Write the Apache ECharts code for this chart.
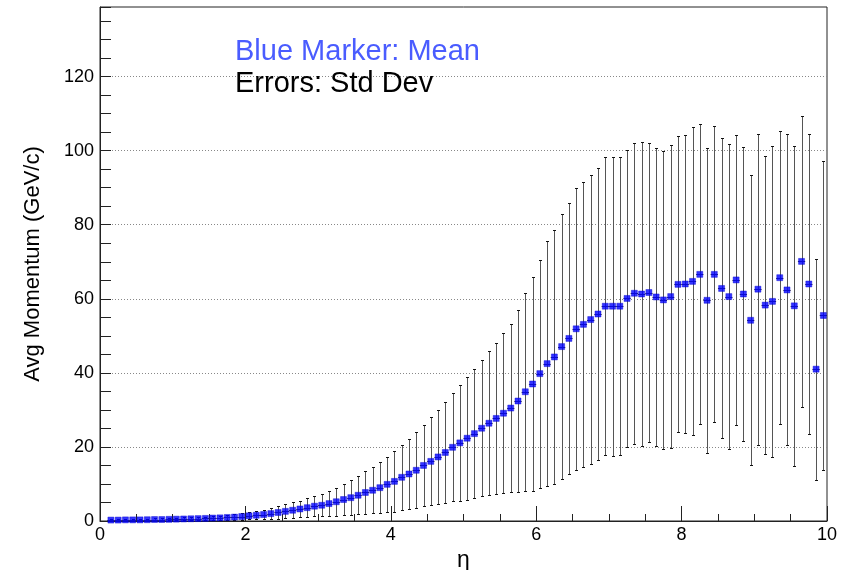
<!DOCTYPE html>
<html>
<head>
<meta charset="utf-8">
<script src="https://cdn.jsdelivr.net/npm/echarts@6/dist/echarts.min.js"></script>
<style>
  html, body { margin: 0; padding: 0; background: #fff; }
  #chart { width: 854px; height: 570px; }
</style>
</head>
<body>
<div id="chart"></div>
<script>
// ---- Data ----
const etaBins = [
  0.15, 0.25, 0.35, 0.45, 0.55, 0.65, 0.75, 0.85, 0.95, 1.05,
  1.15, 1.25, 1.35, 1.45, 1.55, 1.65, 1.75, 1.85, 1.95, 2.05,
  2.15, 2.25, 2.35, 2.45, 2.55, 2.65, 2.75, 2.85, 2.95, 3.05,
  3.15, 3.25, 3.35, 3.45, 3.55, 3.65, 3.75, 3.85, 3.95, 4.05,
  4.15, 4.25, 4.35, 4.45, 4.55, 4.65, 4.75, 4.85, 4.95, 5.05,
  5.15, 5.25, 5.35, 5.45, 5.55, 5.65, 5.75, 5.85, 5.95, 6.05,
  6.15, 6.25, 6.35, 6.45, 6.55, 6.65, 6.75, 6.85, 6.95, 7.05,
  7.15, 7.25, 7.35, 7.45, 7.55, 7.65, 7.75, 7.85, 7.95, 8.05,
  8.15, 8.25, 8.35, 8.45, 8.55, 8.65, 8.75, 8.85, 8.95, 9.05,
  9.15, 9.25, 9.35, 9.45, 9.55, 9.65, 9.75, 9.85, 9.95
];
const binWidth = 0.1;

const meanMomentum = [
  0.25, 0.25, 0.3, 0.3, 0.3, 0.35, 0.4, 0.4, 0.45, 0.5,
  0.55, 0.6, 0.65, 0.7, 0.8, 0.85, 0.95, 1.05, 1.2, 1.4,
  1.55, 1.75, 2.0, 2.3, 2.6, 2.9, 3.25, 3.6, 4.0, 4.25,
  4.7, 5.2, 5.8, 6.3, 6.95, 7.7, 8.3, 9.0, 9.9, 10.7,
  11.8, 12.7, 13.7, 15.0, 16.1, 17.3, 18.5, 19.9, 21.1, 22.35,
  23.6, 25.05, 26.4, 27.7, 29.1, 30.5, 32.4, 34.9, 37.0, 39.8,
  42.5, 44.3, 47.1, 49.3, 51.9, 53.1, 54.4, 55.9, 58.0, 58.0,
  58.0, 60.1, 61.5, 61.3, 61.7, 60.5, 59.7, 60.6, 63.9, 64.0,
  64.7, 66.6, 59.6, 66.6, 62.8, 60.6, 65.1, 61.3, 54.2, 62.6,
  58.3, 59.3, 65.7, 62.4, 58.1, 70.1, 64.0, 41.0, 55.5
];

const stdDev = [
  0.2, 0.2, 0.2, 0.2, 0.25, 0.25, 0.3, 0.3, 0.3, 0.35,
  0.4, 0.4, 0.45, 0.5, 0.55, 0.6, 0.65, 0.75, 0.85, 0.95,
  1.1, 1.25, 1.5, 1.75, 1.9, 2.1, 2.2, 2.5, 2.7, 3.0,
  3.4, 3.8, 4.3, 4.8, 5.1, 5.7, 6.2, 6.8, 7.4, 8.2,
  8.8, 9.5, 10.2, 11.0, 11.9, 12.8, 13.7, 14.6, 15.6, 16.6,
  17.5, 18.4, 19.5, 20.4, 21.6, 22.8, 24.5, 26.8, 28.8, 30.8,
  33.0, 34.2, 35.8, 36.5, 38.0, 38.5, 39.0, 39.3, 40.2, 40.4,
  40.3, 40.1, 40.7, 41.0, 40.3, 40.3, 40.3, 40.8, 40.0, 40.3,
  41.6, 40.5, 41.2, 40.0, 40.5, 41.1, 39.1, 39.6, 39.1, 42.0,
  40.2, 41.9, 39.5, 42.0, 43.2, 39.4, 40.5, 29.8, 41.8
];

const xRange = [0, 10];
const yRange = [0, 138.8];
const xTickStep = 2;
const yLabelStep = 20;
const yTickStep = 5;

const legendLines = ['Blue Marker: Mean', 'Errors: Std Dev'];
const xTitle = 'η';
const yTitle = 'Avg Momentum (GeV/c)';

// ---- Build ----
const points = etaBins.map((x, i) => [x, meanMomentum[i], stdDev[i]]);

const chart = echarts.init(document.getElementById('chart'), null, { renderer: 'canvas' });
const FONT = 'Liberation Sans, Arial, Helvetica, sans-serif';

function snap(v) { return Math.round(v) + 0.5; }

const option = {
  animation: false,
  backgroundColor: '#ffffff',
  grid: {
    left: 100, right: 27, top: 7, bottom: 49,
    outerBoundsMode: 'none',
    containLabel: false,
    show: true, borderColor: '#222', borderWidth: 1,
    backgroundColor: 'transparent'
  },
  xAxis: {
    type: 'value',
    min: xRange[0], max: xRange[1], interval: xTickStep,
    name: xTitle, nameLocation: 'middle', nameGap: 24,
    nameTextStyle: { fontFamily: FONT, fontSize: 23, color: '#000' },
    axisLine: { show: true, onZero: false, lineStyle: { color: '#222', width: 1 } },
    axisTick: { show: true, inside: true, length: 15, lineStyle: { color: '#222' } },
    minorTick: { show: true, splitNumber: 4, length: 7, lineStyle: { color: '#222' } },
    axisLabel: { fontFamily: FONT, fontSize: 18, color: '#000', margin: 5 },
    splitLine: { show: false }
  },
  yAxis: [
    {
      type: 'value',
      position: 'left',
      min: yRange[0], max: yRange[1], interval: yTickStep,
      axisLine: { show: true, onZero: false, lineStyle: { color: '#222', width: 1 } },
      axisTick: { show: true, inside: true, length: 11, lineStyle: { color: '#222' } },
      axisLabel: { show: false },
      splitLine: { show: false }
    },
    {
      type: 'value',
      position: 'left',
      min: yRange[0], max: yRange[1], interval: yLabelStep,
      name: yTitle, nameLocation: 'middle', nameGap: 56,
      nameTextStyle: { fontFamily: FONT, fontSize: 22, color: '#000' },
      axisLine: { show: false },
      axisTick: { show: false },
      axisLabel: {
        fontFamily: FONT, fontSize: 18, color: '#000', margin: 6,
        formatter: v => (Math.abs(v % yLabelStep) < 1e-9 ? String(v) : '')
      },
      splitLine: {
        show: true, showMinLine: false, showMaxLine: false,
        lineStyle: { color: '#888', type: [1, 2], width: 1 }
      }
    }
  ],
  graphic: [
    {
      type: 'text', left: 235, top: 37, z: 100,
      style: { text: legendLines[0], fill: '#4a5cff', font: '29px ' + FONT }
    },
    {
      type: 'text', left: 235, top: 69, z: 100,
      style: { text: legendLines[1], fill: '#000', font: '29px ' + FONT }
    }
  ],
  series: [
    {
      type: 'custom',
      xAxisIndex: 0, yAxisIndex: 0,
      clip: true,
      data: points,
      z: 2,
      renderItem: function (params, api) {
        const x = api.value(0), y = api.value(1), e = api.value(2);
        const c = api.coord([x, y]);
        const t = api.coord([x, y + e]);
        const b = api.coord([x, y - e]);
        const l = api.coord([x - binWidth / 2, y]);
        const r = api.coord([x + binWidth / 2, y]);
        const cx = snap(c[0]);
        const cy = snap(c[1]);
        const ty = snap(t[1]);
        const by = snap(b[1]);
        const children = [
          { type: 'line', shape: { x1: cx, y1: ty, x2: cx, y2: by },
            style: { stroke: '#555', lineWidth: 1 } },
          { type: 'line', shape: { x1: l[0], y1: cy, x2: r[0], y2: cy },
            style: { stroke: '#333', lineWidth: 1 } },
          { type: 'line', shape: { x1: cx - 1.5, y1: ty, x2: cx + 1.5, y2: ty },
            style: { stroke: '#111', lineWidth: 1 } },
          { type: 'line', shape: { x1: cx - 1.5, y1: by, x2: cx + 1.5, y2: by },
            style: { stroke: '#111', lineWidth: 1 } }
        ];
        return { type: 'group', children: children };
      }
    },
    {
      type: 'scatter',
      xAxisIndex: 0, yAxisIndex: 0,
      data: points.map(p => [p[0], p[1]]),
      symbol: 'rect',
      symbolSize: 6,
      itemStyle: { color: '#0000ff', borderColor: '#0000cc', borderWidth: 0.5 },
      z: 3,
      clip: true
    }
  ]
};

chart.setOption(option);
</script>
</body>
</html>
